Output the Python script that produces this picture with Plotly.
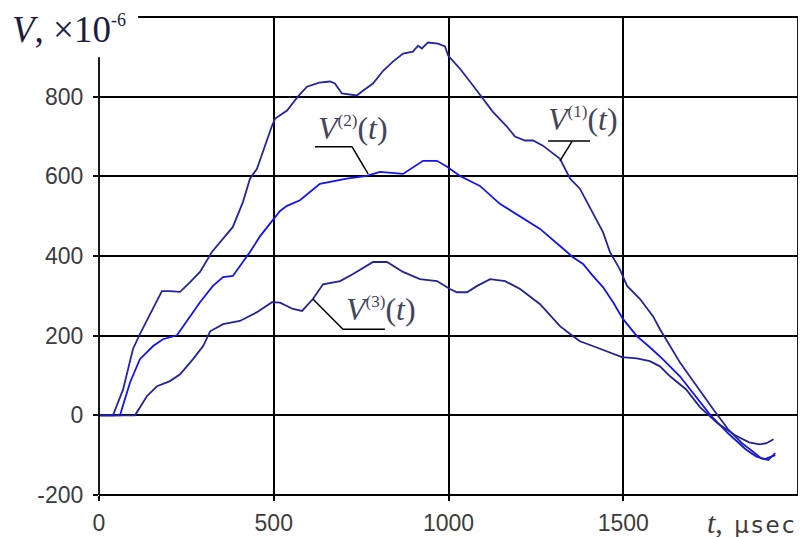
import plotly.graph_objects as go

# ---- data (t in microseconds, V in units of 1e-6) ----
t1 = [0, 40, 69, 97, 117, 152, 180, 203, 232, 260, 289, 323, 355, 383, 412, 432, 452, 481, 495, 504,
      538, 569, 595, 630, 661, 675, 695, 738, 755, 784, 813, 841, 870, 898, 913, 924, 941, 970, 990, 999,
      1033, 1070, 1099, 1127, 1167, 1190, 1219, 1242, 1270, 1299, 1319, 1348, 1376, 1396, 1425, 1442,
      1462, 1490, 1511, 1548, 1585, 1605, 1634, 1662, 1682, 1720, 1760, 1800, 1840, 1870, 1895, 1915, 1935]
v1 = [0, 0, 65, 166, 204, 262, 312, 312, 310, 334, 360, 410, 443, 473, 536, 594, 619, 694, 727, 745,
      765, 800, 825, 835, 838, 833, 808, 803, 815, 833, 865, 888, 908, 913, 928, 921, 936, 933, 926, 903,
      870, 828, 795, 762, 725, 700, 690, 690, 677, 657, 644, 594, 569, 536, 488, 460,
      410, 367, 325, 292, 249, 216, 174, 133, 108, 60, 12, -35, -70, -90, -108, -112, -95]

t2 = [0, 60, 89, 117, 155, 183, 223, 252, 289, 326, 355, 383, 412, 432, 461, 495, 518, 538, 575, 632,
      709, 766, 804, 870, 927, 967, 996, 1033, 1090, 1147, 1205, 1262, 1319, 1356, 1385, 1413, 1442,
      1471, 1499, 1539, 1576, 1613, 1662, 1700, 1750, 1800, 1850, 1880, 1905, 1935]
v2 = [0, 0, 83, 141, 174, 191, 201, 237, 284, 325, 347, 350, 385, 410, 450, 486, 513, 526, 540, 581,
      594, 601, 611, 606, 639, 639, 624, 601, 576, 531, 500, 468, 425, 397, 380, 350, 322,
      284, 242, 199, 171, 141, 98, 55, 0, -45, -85, -103, -110, -100]

t3 = [0, 103, 137, 166, 203, 232, 269, 298, 318, 355, 403, 452, 495, 518, 555, 581, 612, 641, 690, 727,
      784, 824, 870, 918, 967, 1004, 1024, 1053, 1082, 1119, 1162, 1205, 1262, 1319, 1348, 1376, 1413,
      1453, 1496, 1539, 1576, 1605, 1634, 1680, 1720, 1770, 1820, 1860, 1890, 1910, 1930]
v3 = [0, 0, 48, 73, 86, 103, 141, 174, 211, 229, 237, 259, 284, 283, 267, 262, 292, 329, 337, 355,
      385, 385, 360, 342, 337, 317, 309, 309, 325, 342, 337, 317, 279, 224, 204, 186, 174,
      161, 146, 143, 136, 123, 98, 65, 20, -20, -50, -68, -73, -70, -60]

x_ticks = [0, 500, 1000, 1500]
x_tick_labels = ["0", "500", "1000", "1500"]
y_ticks = [-200, 0, 200, 400, 600, 800]
y_tick_labels = ["-200", "0", "200", "400", "600", "800"]

colors = {"V1": "#2424a8", "V2": "#1414f0", "V3": "#22229c"}

fig = go.Figure()
fig.add_trace(go.Scatter(x=t1, y=v1, mode="lines", line=dict(color=colors["V1"], width=1.8), name="V1"))
fig.add_trace(go.Scatter(x=t2, y=v2, mode="lines", line=dict(color=colors["V2"], width=1.8), name="V2"))
fig.add_trace(go.Scatter(x=t3, y=v3, mode="lines", line=dict(color=colors["V3"], width=1.8), name="V3"))

tickfont = dict(family="Liberation Sans", size=23, color="#3c3c3c")
fig.update_xaxes(range=[0, 2000], tickvals=x_ticks, ticktext=x_tick_labels, showgrid=True,
                 gridcolor="black", gridwidth=1.6, automargin=False,
                 zeroline=False, showline=False, ticks="outside", ticklen=5, tickwidth=1.6,
                 tickcolor="black", tickfont=tickfont, ticklabelstandoff=2)
fig.update_yaxes(range=[-200, 1000], tickvals=y_ticks, ticktext=y_tick_labels, showgrid=True,
                 gridcolor="black", gridwidth=1.6, automargin=False,
                 zeroline=False, showline=False, ticks="outside", ticklen=5, tickwidth=1.6,
                 tickcolor="black", tickfont=tickfont, ticklabelstandoff=5)

frame = dict(color="black", width=1.8)
shapes = [
    dict(type="rect", xref="paper", yref="paper", x0=-0.02, x1=0.056, y0=0.916, y1=1.02,
         fillcolor="white", line=dict(width=0), layer="above"),
    dict(type="line", xref="paper", yref="paper", x0=0, x1=0, y0=0, y1=0.916, line=frame, layer="above"),
    dict(type="line", xref="paper", yref="paper", x0=0.056, x1=1, y0=1, y1=1, line=frame, layer="above"),
    dict(type="line", xref="paper", yref="paper", x0=1, x1=1, y0=0, y1=1, line=frame, layer="above"),
    dict(type="line", xref="paper", yref="paper", x0=0, x1=1, y0=0, y1=0, line=frame, layer="above"),
    # leader lines for labels
    dict(type="path", xref="x", yref="y", path="M 618 674 L 724 674 L 770 606",
         line=dict(color="black", width=1.5)),
    dict(type="path", xref="x", yref="y", path="M 1285 689 L 1405 689 M 1353 687 L 1319 639",
         line=dict(color="black", width=1.5)),
    dict(type="path", xref="x", yref="y", path="M 612 292 L 698 216 L 818 216",
         line=dict(color="black", width=1.5)),
]

lab_font = dict(family="Liberation Serif", size=32, color="#45455a")


def curve_label(n):
    return ("<i>V</i><sup><span style='font-size:17px'>(" + str(n) +
            ")</span></sup>(<i>t</i>)")


annotations = [
    dict(x=727, y=722, xref="x", yref="y", text=curve_label(2), showarrow=False, font=lab_font),
    dict(x=1385, y=744, xref="x", yref="y", text=curve_label(1), showarrow=False, font=lab_font),
    dict(x=807, y=266, xref="x", yref="y", text=curve_label(3), showarrow=False, font=lab_font),
    dict(x=-0.128, y=1.02, xref="paper", yref="paper", xanchor="left", yanchor="top",
         text="<i>V</i>, ×10<sup><span style='font-size:18px'>-6</span></sup>", showarrow=False,
         font=dict(family="Liberation Serif", size=37, color="#1c1c40")),
    dict(x=0.999, y=-0.057, xref="paper", yref="paper", xanchor="right", yanchor="middle",
         text="<span style='font-family:Liberation Serif;font-size:30px'><i>t</i>,</span>\u2002μ\u200as\u200ae\u200ac",
         showarrow=False, font=dict(family="DejaVu Sans", size=23, color="#3c3c3c")),
]

# the page body adds an 8px offset; margins compensate so the plot area lands at
# x 99..798, y 17..495 in the 806x537 window
fig.update_layout(width=798, height=529, margin=dict(l=91, r=8, t=9, b=42),
                  paper_bgcolor="white", plot_bgcolor="white", showlegend=False,
                  shapes=shapes, annotations=annotations)

fig.write_html("out.html")
